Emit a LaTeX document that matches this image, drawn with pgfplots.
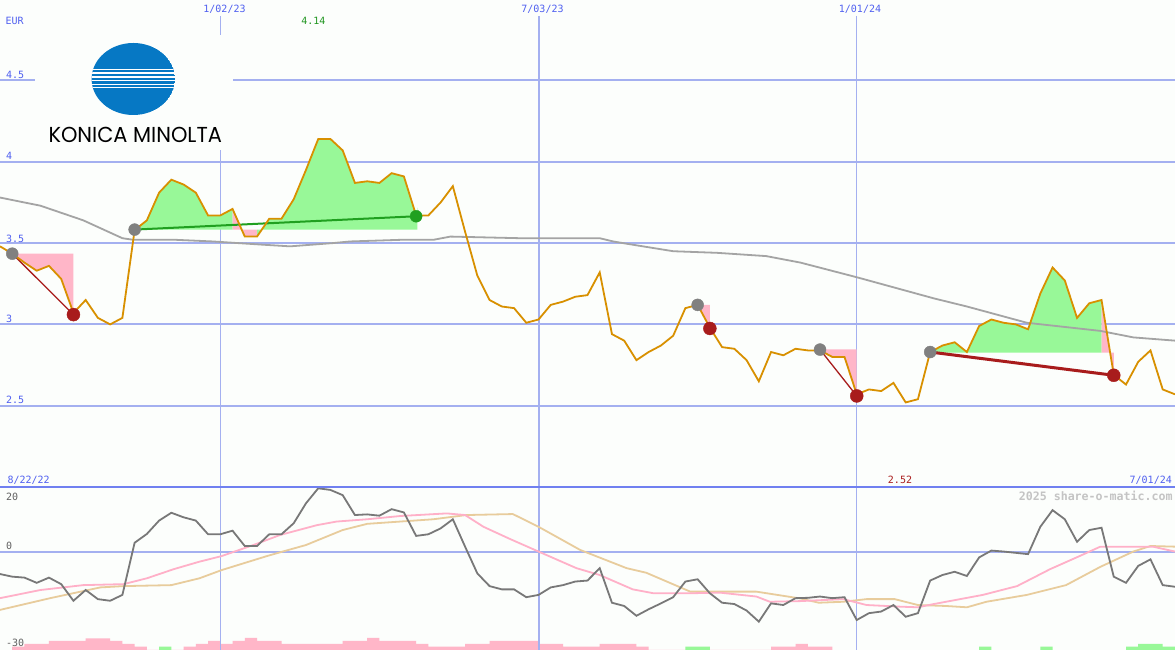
\documentclass[border=0pt]{standalone}
\usepackage{pgfplots}
\pgfplotsset{compat=1.18}
\usepackage{pgfplotstable}
\usepackage{graphicx}
\usepackage{fontspec}
\setmainfont{DejaVu Sans Mono}
\newfontfamily\logofont{Poppins}
\newfontfamily\wmfont{DejaVu Sans Mono}
\definecolor{bg}{RGB}{252,254,252}
\definecolor{gridc}{RGB}{164,176,240}
\definecolor{sepc}{RGB}{112,128,240}
\definecolor{txtblue}{RGB}{80,96,240}
\definecolor{pricec}{RGB}{216,144,0}
\definecolor{mac}{RGB}{164,164,164}
\definecolor{greenf}{RGB}{152,248,152}
\definecolor{pinkf}{RGB}{255,182,200}
\definecolor{darkred}{RGB}{168,28,28}
\definecolor{darkgreen}{RGB}{32,160,32}
\definecolor{dotgray}{RGB}{128,128,128}
\definecolor{momc}{RGB}{120,120,120}
\definecolor{pinkl}{RGB}{255,176,200}
\definecolor{tanl}{RGB}{232,204,156}
\definecolor{konica}{RGB}{6,120,196}
\definecolor{wmc}{RGB}{196,196,196}
\definecolor{lowtxt}{RGB}{96,96,96}
\definecolor{hitxt}{RGB}{32,150,32}
\definecolor{lotxt}{RGB}{170,30,30}

\pgfplotstableread{
i p
0 3.48
1 3.435
2 3.38
3 3.33
4 3.36
5 3.28
6 3.07
7 3.15
8 3.04
9 3.00
10 3.04
11 3.58
12 3.64
13 3.81
14 3.89
15 3.86
16 3.81
17 3.67
18 3.67
19 3.71
20 3.54
21 3.54
22 3.65
23 3.65
24 3.77
25 3.95
26 4.14
27 4.14
28 4.07
29 3.87
30 3.88
31 3.87
32 3.93
33 3.91
34 3.67
35 3.67
36 3.75
37 3.85
38 3.57
39 3.30
40 3.15
41 3.11
42 3.10
43 3.01
44 3.03
45 3.12
46 3.14
47 3.17
48 3.18
49 3.32
50 2.94
51 2.90
52 2.78
53 2.83
54 2.87
55 2.93
56 3.10
57 3.12
58 2.98
59 2.86
60 2.85
61 2.78
62 2.65
63 2.83
64 2.81
65 2.85
66 2.84
67 2.84
68 2.80
69 2.80
70 2.57
71 2.60
72 2.59
73 2.64
74 2.52
75 2.54
76 2.83
77 2.87
78 2.89
79 2.83
80 2.99
81 3.03
82 3.01
83 3.00
84 2.97
85 3.19
86 3.35
87 3.27
88 3.04
89 3.13
90 3.15
91 2.69
92 2.63
93 2.77
94 2.84
95 2.60
96 2.57
}\pricetable

\pgfplotstableread{
i m
0 3.78
3.3 3.73
6.8 3.64
10.0 3.53
10.9 3.52
14.4 3.52
17.4 3.51
21.5 3.49
23.7 3.48
27.2 3.50
28.6 3.51
32.7 3.52
35.4 3.52
36.8 3.54
42.5 3.53
49.0 3.53
50.1 3.51
51.7 3.49
55.0 3.45
58.6 3.44
62.6 3.42
65.4 3.38
70.0 3.29
76.3 3.16
79.0 3.11
83.9 3.01
89.9 2.96
92.6 2.92
96 2.90
}\matable

\pgfplotstableread{
i v
0 -6.7
1 -7.5
2 -7.8
3 -9.4
4 -7.8
5 -9.8
6 -14.9
7 -11.6
8 -14.4
9 -14.9
10 -13.1
11 2.9
12 5.6
13 9.7
14 12.1
15 10.7
16 9.7
17 5.5
18 5.5
19 6.6
20 1.9
21 1.9
22 5.5
23 5.5
24 8.9
25 15.0
26 19.6
27 19.1
28 17.5
29 11.4
30 11.6
31 11.2
32 13.2
33 12.2
34 5.0
35 5.5
36 7.3
37 10.1
38 1.7
39 -6.5
40 -10.4
41 -11.4
42 -11.4
43 -13.8
44 -13.1
45 -10.8
46 -10.1
47 -9.0
48 -8.7
49 -4.9
50 -15.5
51 -16.5
52 -19.5
53 -17.5
54 -15.7
55 -13.8
56 -9.0
57 -8.3
58 -12.6
59 -15.5
60 -15.9
61 -17.9
62 -21.3
63 -15.7
64 -16.2
65 -14.1
66 -14.0
67 -13.6
68 -14.1
69 -13.8
70 -20.8
71 -18.7
72 -18.2
73 -16.2
74 -19.8
75 -18.7
76 -8.7
77 -7.0
78 -6.0
79 -7.3
80 -1.6
81 0.5
82 0.2
83 -0.2
84 -0.6
85 7.8
86 12.9
87 10.1
88 3.2
89 6.8
90 7.5
91 -7.5
92 -9.4
93 -4.2
94 -2.2
95 -10.1
96 -10.6
}\momtable

\pgfplotstableread{
i v
0 -14.1
3.3 -11.6
6.8 -10.1
10.1 -9.8
12.0 -8.0
14.2 -5.2
16.3 -2.9
18.1 -1.2
20.7 2.2
22.9 5.3
25.9 8.3
27.5 9.4
30.0 10.1
32.7 11.1
36.5 11.9
38.0 11.4
39.5 7.8
41.7 4.0
44.0 0.2
47.1 -4.9
49.0 -7.0
51.7 -11.4
53.4 -12.6
56.4 -12.6
58.8 -12.4
61.8 -13.6
62.9 -15.2
65.4 -15.0
68.9 -14.4
70.8 -16.2
73.5 -16.7
75.0 -16.9
76.3 -15.9
80.3 -13.1
83.1 -10.4
85.8 -5.2
88.2 -1.2
89.9 1.7
91.2 1.7
94.2 1.7
96 0.2
}\pinktable

\pgfplotstableread{
i v
0 -17.7
4.1 -14.1
8.2 -10.8
10.1 -10.4
14.0 -10.1
16.3 -8.0
18.1 -5.5
21.8 -1.2
23.1 0.2
25.0 2.2
28.0 6.8
30.0 8.7
32.7 9.4
35.4 10.1
38.1 11.4
41.9 11.7
44.0 7.8
47.4 0.7
51.2 -4.9
52.8 -6.3
56.4 -12.1
61.8 -12.1
65.4 -14.2
66.9 -15.5
68.9 -15.2
70.8 -14.4
73.1 -14.4
75.0 -16.2
77.3 -16.5
79.0 -16.9
80.6 -15.2
83.9 -13.1
87.1 -10.1
89.9 -4.5
92.6 0.2
94.0 1.9
96 1.7
}\tantable

\begin{document}
\begin{tikzpicture}[x=1pt,y=1pt]
\fill[bg] (0pt,0pt) rectangle (1175pt,650pt);

% ---------------- upper panel ----------------
\begin{axis}[
  at={(0pt,163pt)}, anchor=south west,
  scale only axis, width=1175pt, height=487pt,
  xmin=0, xmax=96, ymin=2.0, ymax=4.995,
  axis line style={draw=none}, tick style={draw=none},
  xtick={18,70}, xticklabels={},
  extra x ticks={44}, extra x tick labels={},
  extra x tick style={every axis x grid/.style={gridc, line width=2pt}},
  ytick={2.5,3,3.5,4,4.5}, yticklabels={},
  xmajorgrids, ymajorgrids,
  every axis x grid/.style={gridc, line width=1pt},
  every axis y grid/.style={gridc, line width=2pt},
]
% fills
\addplot[fill=pinkf, draw=none] coordinates {(1,3.435)(2,3.38)(3,3.33)(4,3.36)(5,3.28)(6,3.07)(6,3.435)} -- cycle;
\addplot[fill=greenf, draw=none] coordinates {(11,3.58)(12,3.64)(13,3.81)(14,3.89)(15,3.86)(16,3.81)(17,3.67)(18,3.67)(19,3.71)(19,3.583)(11,3.583)} -- cycle;
\addplot[fill=pinkf, draw=none] coordinates {(19,3.71)(20,3.54)(21,3.54)(21,3.583)(19,3.583)} -- cycle;
\addplot[fill=greenf, draw=none] coordinates {(21,3.54)(22,3.65)(23,3.65)(24,3.77)(25,3.95)(26,4.14)(27,4.14)(28,4.07)(29,3.87)(30,3.88)(31,3.87)(32,3.93)(33,3.91)(34,3.67)(34.1,3.72)(34.1,3.583)(21,3.583)} -- cycle;
\addplot[fill=pinkf, draw=none] coordinates {(57,3.12)(58,2.98)(58,3.12)} -- cycle;
\addplot[fill=pinkf, draw=none] coordinates {(67,2.84)(68,2.80)(69,2.80)(70,2.57)(70,2.847)(67,2.847)} -- cycle;
\addplot[fill=greenf, draw=none] coordinates {(76,2.83)(77,2.87)(78,2.89)(79,2.83)(80,2.99)(81,3.03)(82,3.01)(83,3.00)(84,2.97)(85,3.19)(86,3.35)(87,3.27)(88,3.04)(89,3.13)(90,3.15)(90,2.826)(76,2.826)} -- cycle;
\addplot[fill=pinkf, draw=none] coordinates {(90,3.15)(91,2.69)(91,2.826)(90,2.826)} -- cycle;
% moving average
\addplot[mac, line width=1.8pt, mark=none] table[x=i, y=m] {\matable};
% trend lines
\addplot[darkred, line width=1.3pt, mark=none] coordinates {(1,3.435)(6,3.06)};
\addplot[darkred, line width=1.3pt, mark=none] coordinates {(67,2.845)(70,2.56)};
\addplot[darkred, line width=3pt, mark=none] coordinates {(76,2.83)(91,2.687)};
\addplot[darkgreen, line width=2pt, mark=none] coordinates {(11,3.583)(34,3.665)};
% dots
\addplot[only marks, mark=*, mark size=6pt, dotgray] coordinates {(1,3.435)(11,3.583)(57,3.12)(67,2.845)(76,2.83)};
\addplot[only marks, mark=*, mark size=6.5pt, darkred] coordinates {(6,3.06)(58,2.975)(70,2.56)(91,2.687)};
\addplot[only marks, mark=*, mark size=6pt, darkgreen] coordinates {(34,3.665)};
% price
\addplot[pricec, line width=1.8pt, mark=none] table[x=i, y=p] {\pricetable};
\end{axis}

% ---------------- lower panel ----------------
\begin{axis}[
  at={(0pt,0pt)}, anchor=south west,
  scale only axis, width=1175pt, height=163pt,
  xmin=0, xmax=96, ymin=0, ymax=163,
  axis line style={draw=none}, tick style={draw=none},
  xtick=\empty, ytick=\empty,
]
\addplot[fill=pinkf, draw=none, const plot, mark=none] coordinates {(1,3.3)(2,6)(4,9)(7,11.7)(9,9)(10,6)(11,3.3)(12,0)(15,3.3)(16,6)(17,9)(18,6)(19,9)(20,12)(21,9)(23,6)(28,9)(30,12)(31,9)(34,6)(35,3.3)(38,6)(40,9)(44,6)(46,3.3)(49,6)(52,3.3)(53,0)(63,3.3)(65,6)(66,3.3)(68,0)} \closedcycle;
\addplot[fill=greenf, draw=none, const plot, mark=none] coordinates {(13,3.3)(14,3.3)} \closedcycle;
\addplot[fill=greenf, draw=none, const plot, mark=none] coordinates {(56,3.3)(58,3.3)} \closedcycle;
\addplot[fill=greenf, draw=none, const plot, mark=none] coordinates {(80,3.3)(81,3.3)} \closedcycle;
\addplot[fill=greenf, draw=none, const plot, mark=none] coordinates {(85,3.3)(86,3.3)} \closedcycle;
\addplot[fill=greenf, draw=none, const plot, mark=none] coordinates {(92,3.3)(93,6)(95,3.3)(96,3.3)} \closedcycle;
\end{axis}

\begin{axis}[
  at={(0pt,0pt)}, anchor=south west,
  scale only axis, width=1175pt, height=163pt,
  xmin=0, xmax=96, ymin=-30, ymax=20,
  axis line style={draw=none}, tick style={draw=none},
  xtick={18,70}, xticklabels={},
  extra x ticks={44}, extra x tick labels={},
  extra x tick style={every axis x grid/.style={gridc, line width=2pt}},
  ytick={0}, yticklabels={},
  xmajorgrids, ymajorgrids,
  every axis x grid/.style={gridc, line width=1pt},
  every axis y grid/.style={gridc, line width=2pt},
]
\addplot[tanl, line width=1.8pt, mark=none] table[x=i, y=v] {\tantable};
\addplot[pinkl, line width=1.8pt, mark=none] table[x=i, y=v] {\pinktable};
\addplot[momc, line width=1.8pt, mark=none] table[x=i, y=v] {\momtable};
\end{axis}

% separator
\draw[sepc, line width=2pt] (0pt,163pt) -- (1175pt,163pt);
% top strip mask
\fill[bg] (0pt,634pt) rectangle (1175pt,650pt);

% logo
\fill[bg] (35pt,500pt) rectangle (233pt,615pt);
\begin{scope}
\clip (133.3pt,571pt) ellipse [x radius=41.7pt, y radius=36pt];
\fill[konica] (133.3pt,571pt) ellipse [x radius=41.7pt, y radius=36pt];
\draw[white, line width=0.9pt] (80pt,580.5pt) -- (190pt,580.5pt);
\draw[white, line width=1.3pt] (80pt,577pt) -- (190pt,577pt);
\draw[white, line width=1.8pt] (80pt,573.3pt) -- (190pt,573.3pt);
\draw[white, line width=1.8pt] (80pt,569.5pt) -- (190pt,569.5pt);
\draw[white, line width=1.3pt] (80pt,565.8pt) -- (190pt,565.8pt);
\draw[white, line width=0.9pt] (80pt,562.3pt) -- (190pt,562.3pt);
\end{scope}
\node[anchor=south west, inner sep=0] at (48.3pt,506.7pt) {\resizebox{173.4pt}{15.3pt}{\logofont KONICA MINOLTA}};

% labels
\begin{scope}[every node/.style={inner sep=0, font=\fontsize{10}{10}\selectfont}]
\node[anchor=base west, text=txtblue] at (5.5pt,625pt) {EUR};
\node[anchor=base, text=txtblue] at (224.5pt,637pt) {1/02/23};
\node[anchor=base, text=txtblue] at (542.5pt,637pt) {7/03/23};
\node[anchor=base, text=txtblue] at (860pt,637pt) {1/01/24};
\node[anchor=base, text=hitxt] at (313.3pt,625pt) {4.14};
\node[anchor=base west, text=txtblue] at (6pt,571.7pt) {4.5};
\node[anchor=base west, text=txtblue] at (6pt,490.7pt) {4};
\node[anchor=base west, text=txtblue] at (6pt,407.3pt) {3.5};
\node[anchor=base west, text=txtblue] at (6pt,327.3pt) {3};
\node[anchor=base west, text=txtblue] at (6pt,246.7pt) {2.5};
\node[anchor=base west, text=txtblue] at (7.3pt,166.7pt) {8/22/22};
\node[anchor=base, text=lotxt] at (900pt,166.7pt) {2.52};
\node[anchor=base east, text=txtblue] at (1172pt,166.7pt) {7/01/24};
\node[anchor=base west, text=lowtxt] at (6pt,149.3pt) {20};
\node[anchor=base west, text=lowtxt] at (6pt,100pt) {0};
\node[anchor=base west, text=lowtxt] at (6pt,3.3pt) {-30};
\node[anchor=base east, text=wmc, font=\wmfont\bfseries\fontsize{11.6}{12}\selectfont] at (1172.7pt,149.8pt) {2025 share-o-matic.com};
\end{scope}

\pgfresetboundingbox
\path[use as bounding box] (0pt,0pt) rectangle (1175pt,650pt);
\end{tikzpicture}
\end{document}
